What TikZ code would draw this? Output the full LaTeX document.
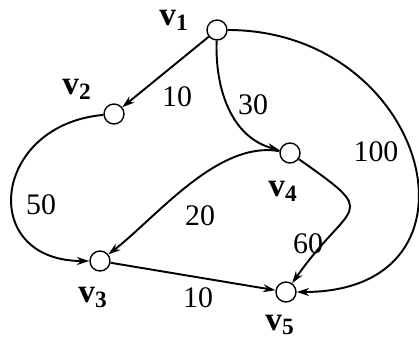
\documentclass[tikz,border=0pt]{standalone}
\usepackage{fontspec}
\setmainfont{Liberation Serif}
\usetikzlibrary{arrows.meta}

\begin{document}
\begin{tikzpicture}[
  x=0.02cm, y=-0.02cm,
  >={Stealth[length=7pt,width=4.5pt]},
  vertex/.style={draw, circle, line width=0.8pt, fill=white, minimum size=0.4cm, inner sep=0pt},
  vname/.style={font=\fontsize{19}{20}\selectfont\bfseries, inner sep=0pt},
  weight/.style={font=\fontsize{17}{18}\selectfont, inner sep=0pt},
  edge/.style={->, line width=1.1pt}
]
\useasboundingbox (0,0) rectangle (419,340);

% vertices
\node[vertex] (v1) at (217,30) {};
\node[vertex] (v2) at (114,114) {};
\node[vertex] (v3) at (100,261) {};
\node[vertex] (v4) at (290,153) {};
\node[vertex] (v5) at (286,292) {};

% vertex names
\node[vname] (n1) at (174,20) {v\textsubscript{1}};
\node[vname] (n2) at (77,89) {v\textsubscript{2}};
\node[vname] (n3) at (93,297) {v\textsubscript{3}};
\node[vname] (n4) at (283,191) {v\textsubscript{4}};
\node[vname] (n5) at (280,325) {v\textsubscript{5}};

% arcs
\draw[edge] (v1) -- (v2);
\draw[edge] (v1) to[out=-92, in=165] (v4);
\draw[edge] (v1) to[out=0, in=0, looseness=1.9] (v5);
\draw[edge] (v2) to[out=185, in=180, looseness=1.95] (v3);
\draw[edge] (v4) to[out=170, in=38, looseness=0.8] (v3);
\draw[edge] (v4) to[out=-35, in=55, looseness=2.1] (v5);
\draw[edge] (v3) -- (v5);

% weights
\node[weight] (w12) at (177,97) {10};
\node[weight] (w14) at (253,105) {30};
\node[weight] (w15) at (376,152) {100};
\node[weight] (w23) at (41,205) {50};
\node[weight] (w43) at (200,216) {20};
\node[weight] (w45) at (308,244) {60};
\node[weight] (w35) at (198,298) {10};

\end{tikzpicture}
\end{document}
